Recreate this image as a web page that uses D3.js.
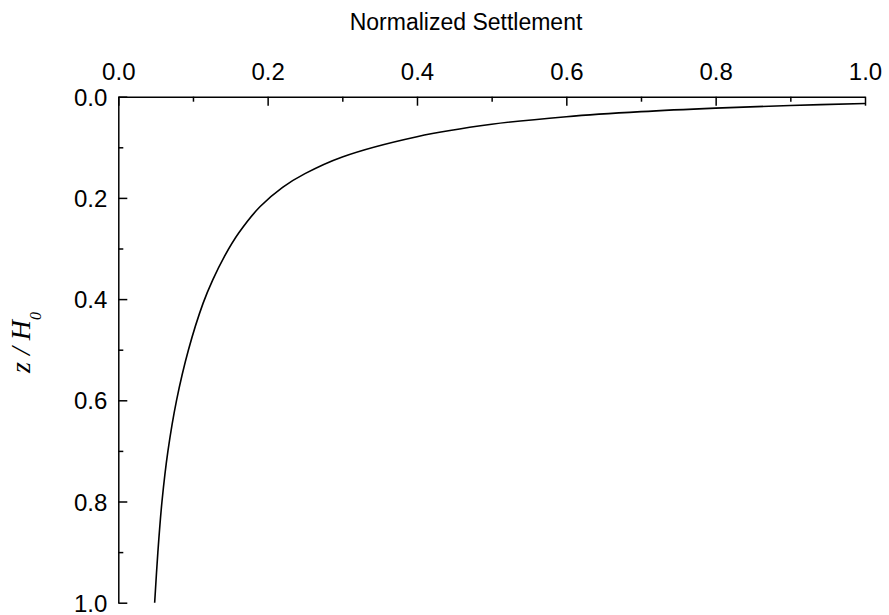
<!DOCTYPE html>
<html>
<head>
<meta charset="utf-8">
<script src="https://cdn.jsdelivr.net/npm/d3@7"></script>
<style>
  body { margin: 0; background: #fff; }
  text { font-family: "Liberation Sans", Arial, sans-serif; }
</style>
</head>
<body>
<div id="chart"></div>
<script>
// values
var settlement = [1.0, 0.9, 0.8, 0.7, 0.6, 0.5, 0.4, 0.3, 0.25, 0.22, 0.19, 0.161, 0.142, 0.1265, 0.1136, 0.094, 0.078, 0.0665, 0.0585, 0.053, 0.0487];
var depth = [0.0133, 0.0173, 0.0225, 0.0295, 0.0395, 0.0545, 0.079, 0.119, 0.152, 0.179, 0.217, 0.27, 0.316, 0.362, 0.408, 0.50, 0.60, 0.70, 0.80, 0.90, 1.0];
var majorTicks = [0.0, 0.2, 0.4, 0.6, 0.8, 1.0];
var minorTicks = [0.1, 0.3, 0.5, 0.7, 0.9];

var width = 889;
var height = 615;
var margin = { left: 118.3, top: 96.7, right: 24, bottom: 12.3 };
var w = width - margin.left - margin.right;
var h = height - margin.top - margin.bottom;

var svg = d3.select('#chart')
    .append('svg')
    .attr('width', width)
    .attr('height', height);

var g = svg.append('g')
    .attr('transform', 'translate(' + margin.left + ',' + margin.top + ')');

var x = d3.scaleLinear().domain([0, 1]).range([0, w]);
var y = d3.scaleLinear().domain([0, 1]).range([0, h]);

var fmt = d3.format('.1f');

// minor ticks first
g.append('g')
    .call(d3.axisTop(x).tickValues(minorTicks).tickSizeInner(-5).tickSizeOuter(0).tickFormat(''))
    .call(a => a.select('.domain').remove());
g.append('g')
    .call(d3.axisLeft(y).tickValues(minorTicks).tickSizeInner(-5).tickSizeOuter(0).tickFormat(''))
    .call(a => a.select('.domain').remove());

var xAxis = g.append('g')
    .call(d3.axisTop(x).tickValues(majorTicks).tickSizeInner(-9).tickSizeOuter(0).tickPadding(17).tickFormat(fmt));
var yAxis = g.append('g')
    .call(d3.axisLeft(y).tickValues(majorTicks).tickSizeInner(-9).tickSizeOuter(0).tickPadding(11).tickFormat(fmt));

g.selectAll('.tick line, .domain')
    .attr('stroke', '#000')
    .attr('stroke-width', 1.5);
g.selectAll('.tick text')
    .attr('fill', '#000')
    .style('font-size', '24px');
yAxis.selectAll('.tick text').attr('dy', '0.36em');

// curve
var pts = settlement.map((s, i) => ({ s: s, z: depth[i] }));
var line = d3.line()
    .x(d => x(d.s))
    .y(d => y(d.z))
    .curve(d3.curveCatmullRom);
g.append('path')
    .datum(pts)
    .attr('d', line)
    .attr('fill', 'none')
    .attr('stroke', '#000')
    .attr('stroke-width', 1.6);

// axis titles
svg.append('text')
    .attr('x', 466)
    .attr('y', 29.5)
    .attr('text-anchor', 'middle')
    .style('font-size', '23px')
    .text('Normalized Settlement');

var yt = svg.append('text')
    .attr('transform', 'translate(30,342.5) rotate(-90)')
    .attr('text-anchor', 'middle')
    .style('font-family', '"Liberation Serif", "Times New Roman", serif')
    .style('font-style', 'italic')
    .style('font-size', '28px');
yt.append('tspan').text('z / H');
yt.append('tspan')
    .attr('dy', 11)
    .style('font-size', '16px')
    .text('0');
</script>
</body>
</html>
